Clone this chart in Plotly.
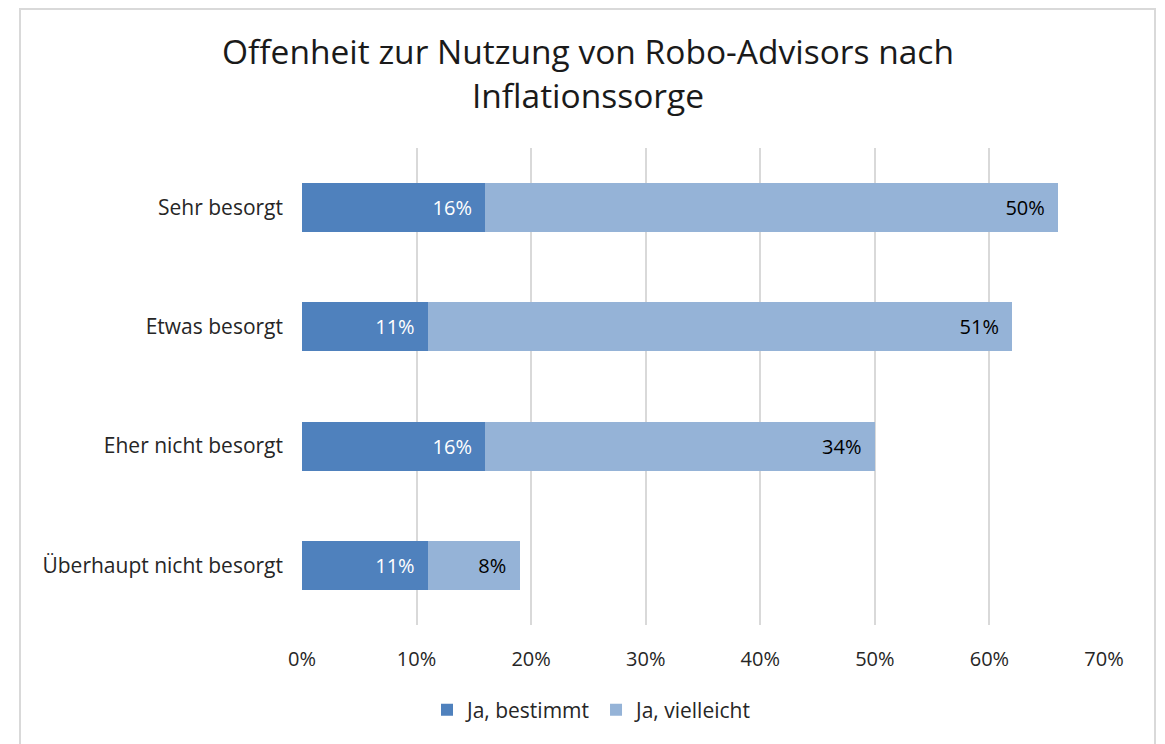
import plotly.graph_objects as go

categories = ["Sehr besorgt", "Etwas besorgt", "Eher nicht besorgt", "Überhaupt nicht besorgt"]
bestimmt = [16, 11, 16, 11]
vielleicht = [50, 51, 34, 8]
x_ticks = [0, 10, 20, 30, 40, 50, 60, 70]

FONT = "'Open Sans', Lato, sans-serif"
DARK = "#4F81BD"
LIGHT = "#95B3D7"
TXT = "#262626"
PAD = "\u00a0\u00a0"

# the page body adds an 8px margin, so aim everything 8px up/left
OFF = 8
W, H = 1165, 744
L, T = 302 - OFF, 148 - OFF
pw, ph = 802, 477
R, B = W - L - pw, H - T - ph


def px(x):
    return (x - OFF - L) / pw


def py(y):
    return (H - B - (y - OFF)) / ph


fig = go.Figure()
fig.add_trace(go.Bar(
    y=categories, x=bestimmt, orientation="h", name="Ja, bestimmt",
    marker=dict(color=DARK, line=dict(width=0)),
    text=[f"{v}%{PAD}" for v in bestimmt], textposition="inside", insidetextanchor="end",
    textfont=dict(color="white", size=20, family=FONT), hoverinfo="skip",
))
fig.add_trace(go.Bar(
    y=categories, x=vielleicht, orientation="h", name="Ja, vielleicht",
    marker=dict(color=LIGHT, line=dict(width=0)),
    text=[f"{v}%{PAD}" for v in vielleicht], textposition="inside", insidetextanchor="end",
    textfont=dict(color="black", size=20, family=FONT), hoverinfo="skip",
))

fig.update_layout(
    width=W, height=H,
    barmode="stack", bargap=0.59,
    margin=dict(l=L, r=R, t=T, b=B),
    paper_bgcolor="white", plot_bgcolor="white",
    font=dict(family=FONT, color=TXT, size=18),
    uniformtext=dict(mode=False),
    xaxis=dict(
        range=[0, 70], tickvals=x_ticks, ticktext=[f"{t}%" for t in x_ticks],
        showgrid=True, gridcolor="#D9D9D9", gridwidth=2, zeroline=False,
        showline=False, ticks="", ticklabelstandoff=20,
        tickfont=dict(size=20, color=TXT),
    ),
    yaxis=dict(
        categoryorder="array", categoryarray=categories, autorange="reversed",
        showgrid=False, showline=False, ticks="", ticklabelstandoff=18,
        tickfont=dict(size=21, color=TXT),
    ),
    showlegend=True,
    legend=dict(
        orientation="h", x=px(592), xanchor="center", y=py(710),
        yanchor="middle", font=dict(size=21, color=TXT),
        traceorder="normal",
    ),
    shapes=[dict(
        type="rect", xref="paper", yref="paper",
        x0=px(20), x1=px(1155), y0=-0.4, y1=py(9),
        line=dict(color="#D9D9D9", width=2), fillcolor="rgba(0,0,0,0)", layer="below",
    )],
    annotations=[dict(
        text="Offenheit zur Nutzung von Robo-Advisors nach<br>Inflationssorge",
        xref="paper", yref="paper", x=px(588), y=py(73),
        xanchor="center", yanchor="middle", showarrow=False,
        font=dict(size=33.5, color="#1a1a1a", family=FONT),
    )],
)

fig.write_html("out.html")
